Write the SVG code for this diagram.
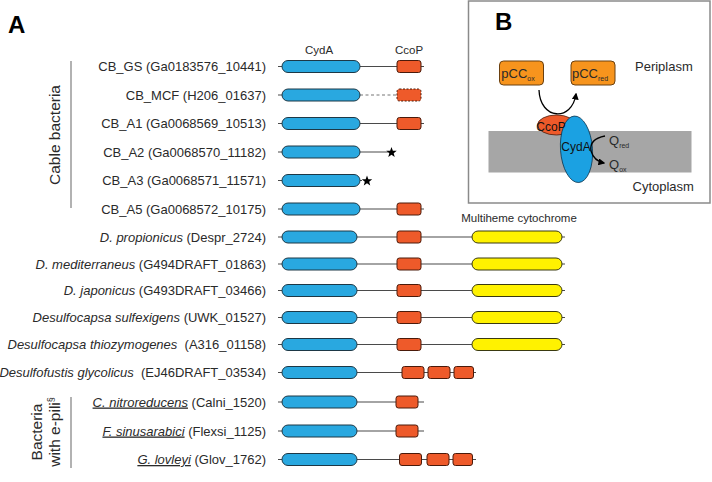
<svg xmlns="http://www.w3.org/2000/svg" width="712" height="482" viewBox="0 0 712 482">
<style>
text{font-family:"Liberation Sans",Arial,sans-serif;fill:#2a2a2a}
.lbl{font-size:13px;text-anchor:end}
.it{font-style:italic}
.ul{text-decoration:underline}
.ln{stroke:#4a4a4a;stroke-width:1.2;fill:none}
.cyd{fill:#29A8E0;stroke:#1d3846;stroke-width:1}
.cco{fill:#EE5A2A;stroke:#4a1a0a;stroke-width:1}
.mhc{fill:#FFF200;stroke:#3a3a10;stroke-width:1}
.star{fill:#000}
.hdr{font-size:11.5px;text-anchor:middle}
.grp{font-size:15.5px;text-anchor:middle}
.bt{font-size:13px}
.sub{font-size:7px}
</style>
<defs>
<path id="star" d="M0,-5.5 L1.35,-1.86 L5.23,-1.7 L2.19,0.71 L3.23,4.45 L0,2.3 L-3.23,4.45 L-2.19,0.71 L-5.23,-1.7 L-1.35,-1.86 Z"/>
<marker id="ah" viewBox="0 0 10 10" refX="8" refY="5" markerWidth="7" markerHeight="7" orient="auto" markerUnits="userSpaceOnUse">
<path d="M0,0 L10,5 L0,10 Z" fill="#000"/>
</marker>
</defs>

<text x="8" y="33" style="font-size:24px;font-weight:bold;fill:#000">A</text>

<g id="headers">
<text class="hdr" x="319" y="54">CydA</text>
<text class="hdr" x="409" y="54">CcoP</text>
<text class="hdr" x="519" y="222">Multiheme cytochrome</text>
</g>

<g id="group-cable">
<line x1="71" y1="61" x2="71" y2="208" stroke="#999" stroke-width="1.5"/>
<text class="grp" transform="translate(60,135) rotate(-90)">Cable bacteria</text>
</g>
<g id="group-epili">
<line x1="71" y1="397" x2="71" y2="468" stroke="#999" stroke-width="1.5"/>
<text class="grp" transform="translate(42,432) rotate(-90)">Bacteria</text>
<text class="grp" transform="translate(60,432) rotate(-90)">with e-pili<tspan dy="-6" style="font-size:9px">§</tspan></text>
</g>

<g id="labels">
<text class="lbl" x="266" y="71">CB_GS (Ga0183576_10441)</text>
<text class="lbl" x="266" y="99.5">CB_MCF (H206_01637)</text>
<text class="lbl" x="266" y="128">CB_A1 (Ga0068569_10513)</text>
<text class="lbl" x="266" y="156.5">CB_A2 (Ga0068570_11182)</text>
<text class="lbl" x="266" y="185">CB_A3 (Ga0068571_11571)</text>
<text class="lbl" x="266" y="213.5">CB_A5 (Ga0068572_10175)</text>
<text class="lbl" x="266" y="241.5"><tspan class="it">D. propionicus</tspan> (Despr_2724)</text>
<text class="lbl" x="266" y="268.5"><tspan class="it">D. mediterraneus</tspan> (G494DRAFT_01863)</text>
<text class="lbl" x="266" y="295"><tspan class="it">D. japonicus</tspan> (G493DRAFT_03466)</text>
<text class="lbl" x="266" y="322"><tspan class="it">Desulfocapsa sulfexigens</tspan> (UWK_01527)</text>
<text class="lbl" x="266" y="349" xml:space="preserve"><tspan class="it">Desulfocapsa thiozymogenes</tspan>  (A316_01158)</text>
<text class="lbl" x="266" y="377" xml:space="preserve"><tspan class="it">Desulfofustis glycolicus</tspan>  (EJ46DRAFT_03534)</text>
<text class="lbl" x="266" y="406.5"><tspan class="it ul">C. nitroreducens</tspan> (Calni_1520)</text>
<text class="lbl" x="266" y="435.5"><tspan class="it ul">F. sinusarabici</tspan> (Flexsi_1125)</text>
<text class="lbl" x="266" y="464"><tspan class="it ul">G. lovleyi</tspan> (Glov_1762)</text>
</g>

<g id="connectors">
<line class="ln" x1="278" y1="66.5" x2="424" y2="66.5"/>
<line class="ln" x1="278" y1="95" x2="360" y2="95"/>
<line x1="360" y1="95" x2="397" y2="95" stroke="#777" stroke-width="1.2" stroke-dasharray="3,2.5"/>
<line class="ln" x1="278" y1="123.5" x2="424" y2="123.5"/>
<line class="ln" x1="278" y1="152" x2="388" y2="152"/>
<line class="ln" x1="278" y1="180.5" x2="362" y2="180.5"/>
<line class="ln" x1="278" y1="209" x2="424" y2="209"/>
<line class="ln" x1="278" y1="237" x2="565" y2="237"/>
<line class="ln" x1="278" y1="264" x2="565" y2="264"/>
<line class="ln" x1="278" y1="290.5" x2="565" y2="290.5"/>
<line class="ln" x1="278" y1="317.5" x2="565" y2="317.5"/>
<line class="ln" x1="278" y1="344.5" x2="565" y2="344.5"/>
<line class="ln" x1="278" y1="372.5" x2="476" y2="372.5"/>
<line class="ln" x1="278" y1="402" x2="424" y2="402"/>
<line class="ln" x1="278" y1="431" x2="424" y2="431"/>
<line class="ln" x1="278" y1="459.5" x2="476" y2="459.5"/>
</g>

<g id="row-cb-gs">
<rect class="cyd" x="282" y="60.5" width="78" height="12" rx="6"/>
<rect class="cco" x="397" y="60.5" width="24" height="12" rx="2.5"/>
</g>
<g id="row-cb-mcf">
<rect class="cyd" x="282" y="89" width="78" height="12" rx="6"/>
<rect x="397" y="89" width="24" height="12" rx="2.5" fill="#EE5A2A" stroke="#4a1a0a" stroke-width="1" stroke-dasharray="2,1.5"/>
</g>
<g id="row-cb-a1">
<rect class="cyd" x="282" y="117.5" width="78" height="12" rx="6"/>
<rect class="cco" x="397" y="117.5" width="24" height="12" rx="2.5"/>
</g>
<g id="row-cb-a2">
<rect class="cyd" x="282" y="146" width="78" height="12" rx="6"/>
<use href="#star" x="391.5" y="152.5" class="star"/>
</g>
<g id="row-cb-a3">
<rect class="cyd" x="282" y="174.5" width="78" height="12" rx="6"/>
<use href="#star" x="367" y="181" class="star"/>
</g>
<g id="row-cb-a5">
<rect class="cyd" x="282" y="203" width="78" height="12" rx="6"/>
<rect class="cco" x="397" y="203" width="24" height="12" rx="2.5"/>
</g>
<g id="row-d-prop">
<rect class="cyd" x="282" y="231" width="75" height="12" rx="6"/>
<rect class="cco" x="397" y="231" width="24" height="12" rx="2.5"/>
<rect class="mhc" x="472" y="231" width="90" height="12" rx="6"/>
</g>
<g id="row-d-med">
<rect class="cyd" x="282" y="258" width="75" height="12" rx="6"/>
<rect class="cco" x="397" y="258" width="24" height="12" rx="2.5"/>
<rect class="mhc" x="472" y="258" width="90" height="12" rx="6"/>
</g>
<g id="row-d-jap">
<rect class="cyd" x="282" y="284.5" width="75" height="12" rx="6"/>
<rect class="cco" x="397" y="284.5" width="24" height="12" rx="2.5"/>
<rect class="mhc" x="472" y="284.5" width="90" height="12" rx="6"/>
</g>
<g id="row-d-sulf">
<rect class="cyd" x="282" y="311.5" width="75" height="12" rx="6"/>
<rect class="cco" x="397" y="311.5" width="24" height="12" rx="2.5"/>
<rect class="mhc" x="472" y="311.5" width="90" height="12" rx="6"/>
</g>
<g id="row-d-thio">
<rect class="cyd" x="282" y="338.5" width="75" height="12" rx="6"/>
<rect class="cco" x="397" y="338.5" width="24" height="12" rx="2.5"/>
<rect class="mhc" x="472" y="338.5" width="90" height="12" rx="6"/>
</g>
<g id="row-desulfofustis">
<rect class="cyd" x="282" y="366.5" width="75" height="12" rx="6"/>
<rect class="cco" x="402" y="366.5" width="22" height="12" rx="2.5"/>
<rect class="cco" x="428" y="366.5" width="22" height="12" rx="2.5"/>
<rect class="cco" x="454" y="366.5" width="19.5" height="12" rx="2.5"/>
</g>
<g id="row-c-nitro">
<rect class="cyd" x="282" y="396" width="75" height="12" rx="6"/>
<rect class="cco" x="396" y="396" width="22" height="12" rx="2.5"/>
</g>
<g id="row-f-sinus">
<rect class="cyd" x="282" y="425" width="75" height="12" rx="6"/>
<rect class="cco" x="396" y="425" width="22" height="12" rx="2.5"/>
</g>
<g id="row-g-lovleyi">
<rect class="cyd" x="282" y="453.5" width="75" height="12" rx="6"/>
<rect class="cco" x="399.5" y="453.5" width="22" height="12" rx="2.5"/>
<rect class="cco" x="427" y="453.5" width="22" height="12" rx="2.5"/>
<rect class="cco" x="453" y="453.5" width="19.5" height="12" rx="2.5"/>
</g>

<g id="panel-b">
<rect x="468.5" y="1" width="241.5" height="202" fill="#fff" stroke="#8a8a8a" stroke-width="1.5"/>
<text x="495" y="30" style="font-size:24px;font-weight:bold;fill:#000">B</text>
<rect x="488.5" y="131" width="203" height="41.5" fill="#A6A6A6"/>
<g id="pcc-ox">
<rect x="499.5" y="61" width="44" height="24" rx="4" fill="#F7941D" stroke="#6a4010" stroke-width="1"/>
<text class="bt" x="518" y="77.5" text-anchor="middle">pCC<tspan class="sub" dy="3">ox</tspan></text>
</g>
<g id="pcc-red">
<rect x="571" y="61" width="44" height="24" rx="4" fill="#F7941D" stroke="#6a4010" stroke-width="1"/>
<text class="bt" x="590" y="77.5" text-anchor="middle">pCC<tspan class="sub" dy="3">red</tspan></text>
</g>
<path d="M539,90 C540,120 572,122 576,94" fill="none" stroke="#000" stroke-width="1.3" marker-end="url(#ah)"/>
<g id="ccop">
<ellipse cx="556.5" cy="125" rx="19" ry="10" fill="#EE5A2A" stroke="#4a1a0a" stroke-width="0.8"/>
</g>
<g id="cyda">
<ellipse cx="576.5" cy="149.3" rx="16" ry="33.3" fill="#1BA1E2" stroke="#0d3550" stroke-width="0.8" transform="rotate(-4 576.5 149.3)"/>
<text x="576" y="150.5" text-anchor="middle" style="font-size:12px;fill:#111">CydA</text>
</g>
<text x="551" y="130.5" text-anchor="middle" style="font-size:12px;fill:#111">CcoP</text>
<path d="M605,136 Q589,139 591,151 Q594,161 604,163" fill="none" stroke="#000" stroke-width="1.3" marker-end="url(#ah)"/>
<text class="bt" x="609" y="145">Q<tspan class="sub" dy="3">red</tspan></text>
<text class="bt" x="609" y="169">Q<tspan class="sub" dy="3">ox</tspan></text>
<text class="bt" x="635" y="71">Periplasm</text>
<text class="bt" x="632.5" y="191">Cytoplasm</text>
</g>
</svg>
